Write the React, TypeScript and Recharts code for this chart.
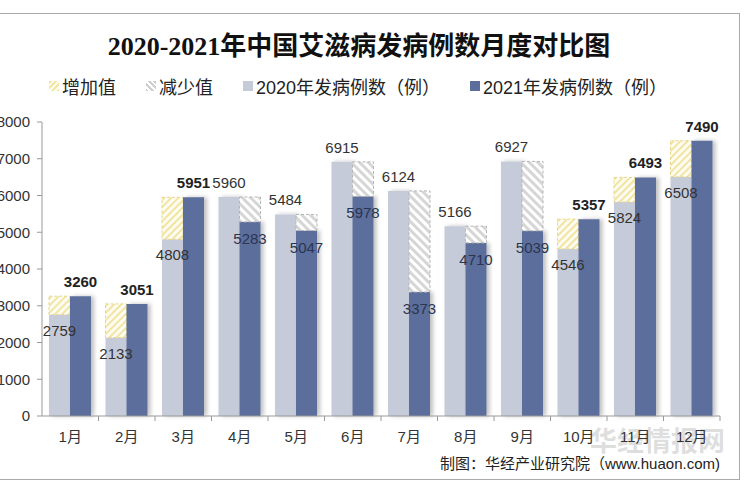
import { BarChart, Bar, XAxis, YAxis, LabelList } from "recharts";

const months = ["1月", "2月", "3月", "4月", "5月", "6月", "7月", "8月", "9月", "10月", "11月", "12月"];
const cases2020 = [2759, 2133, 4808, 5960, 5484, 6915, 6124, 5166, 6927, 4546, 5824, 6508];
const cases2021 = [3260, 3051, 5951, 5283, 5047, 5978, 3373, 4710, 5039, 5357, 6493, 7490];
const yTicks = [0, 1000, 2000, 3000, 4000, 5000, 6000, 7000, 8000];

const data = months.map((m, i) => ({
  month: m,
  y2020: cases2020[i],
  y2021: cases2021[i],
  inc: Math.max(0, cases2021[i] - cases2020[i]),
  dec: Math.max(0, cases2020[i] - cases2021[i]),
}));

const LIGHT = "#c6cbda";
const DARK = "#5b6e9c";
const FONT = "'Liberation Sans', Arial, 'Noto Sans CJK SC', sans-serif";

const label2020 = (props: any) => {
  const { x, y, width, value } = props;
  const i = cases2020.indexOf(value);
  const above = cases2021[i] < value;
  return (
    <text x={x + width / 2} y={above ? y - 9 : y + 21} textAnchor="middle"
      fontSize={15} fill="#333" fontFamily={FONT}>
      {value}
    </text>
  );
};

const label2021 = (props: any) => {
  const { x, y, width, value } = props;
  const i = cases2021.indexOf(value);
  const above = value > cases2020[i];
  return (
    <text x={x + width / 2} y={above ? y - 9 : y + 22} textAnchor="middle"
      fontSize={15} fontWeight={above ? "bold" : "normal"} fill={above ? "#222" : "#2a3550"} fontFamily={FONT}>
      {value}
    </text>
  );
};

const MonthTick = (props: any) => {
  const { x, y, payload } = props;
  const half = 678 / 12 / 2;
  return (
    <g>
      <line x1={x + half} y1={y} x2={x + half} y2={y + 5} stroke="#999" />
      <text x={x} y={y + 26} textAnchor="middle" fontSize={15} fill="#333" fontFamily={FONT}>
        {payload.value}
      </text>
    </g>
  );
};

const legendItems = [
  { name: "增加值", bg: "repeating-linear-gradient(-45deg, #f3e7a6 0 2px, #fffdf0 2px 4px)" },
  { name: "减少值", bg: "repeating-linear-gradient(45deg, #cfcfcf 0 2px, #fff 2px 4px)" },
  { name: "2020年发病例数（例）", bg: LIGHT },
  { name: "2021年发病例数（例）", bg: DARK },
];

export default function App() {
  return (
    <div style={{ position: "absolute", left: 0, top: 0, width: 750, height: 500, overflow: "hidden", background: "#fff" }}>
      <div style={{ position: "absolute", left: -2, top: 13, width: 742, height: 467, border: "1px solid #aaa", boxSizing: "border-box" }} />
      <div style={{ position: "absolute", left: 0, top: 25, width: 718, textAlign: "center", fontSize: 26, fontWeight: "bold",
        fontFamily: "'Liberation Serif', 'Noto Sans CJK SC', serif", color: "#111" }}>
        2020-2021年中国艾滋病发病例数月度对比图
      </div>
      <div style={{ position: "absolute", left: 0, top: 73, width: 716, display: "flex", justifyContent: "center", gap: 30,
        fontSize: 18, fontFamily: FONT, color: "#222" }}>
        {legendItems.map((it) => (
          <div key={it.name} style={{ display: "flex", alignItems: "center" }}>
            <span style={{ display: "inline-block", width: 10, height: 10, background: it.bg, marginRight: 3 }} />
            {it.name}
          </div>
        ))}
      </div>
      <div style={{ position: "absolute", left: 590, top: 420, fontSize: 27, fontWeight: "bold", color: "rgba(160,160,160,0.35)", fontFamily: FONT }}>
        华经情报网
      </div>
      <div style={{ position: "absolute", right: 30, top: 452, fontSize: 15, color: "#222", fontFamily: FONT }}>
        制图：华经产业研究院（www.huaon.com)
      </div>
      <div style={{ position: "absolute", left: 0, top: 0 }}>
        <BarChart width={750} height={500} data={data} barGap={0} barSize={21}
          margin={{ top: 122, right: 30, left: 0, bottom: 54 }}>
          <defs>
            <pattern id="incHatch" width="5" height="5" patternUnits="userSpaceOnUse" patternTransform="rotate(45)">
              <rect width="5" height="5" fill="#fffdf2" />
              <rect width="2" height="5" fill="#f1e4a2" />
            </pattern>
            <pattern id="decHatch" width="6" height="6" patternUnits="userSpaceOnUse" patternTransform="rotate(-45)">
              <rect width="6" height="6" fill="#ffffff" />
              <rect width="3" height="6" fill="#d6d6d6" />
            </pattern>
            <filter id="barShadow" x="-20%" y="-5%" width="150%" height="110%">
              <feDropShadow dx="3" dy="0" stdDeviation="2" floodColor="#000" floodOpacity="0.25" />
            </filter>
          </defs>
          <XAxis dataKey="month" axisLine={{ stroke: "#999" }} tickLine={false} tickSize={0} tickMargin={0}
            tick={<MonthTick />} height={30} interval={0} />
          <YAxis domain={[0, 8000]} ticks={yTicks} width={42} axisLine={{ stroke: "#999" }}
            tickLine={{ stroke: "#999" }} tickSize={5} tickMargin={7}
            tick={{ fontSize: 15, fill: "#333", fontFamily: FONT }} />
          <Bar dataKey="y2020" stackId="a" fill={LIGHT} filter="url(#barShadow)" isAnimationActive={false}>
            <LabelList dataKey="y2020" content={label2020} />
          </Bar>
          <Bar dataKey="inc" stackId="a" fill="url(#incHatch)" stroke="#e6d68c" strokeDasharray="3 2" strokeWidth={1} isAnimationActive={false} />
          <Bar dataKey="y2021" stackId="b" fill={DARK} filter="url(#barShadow)" isAnimationActive={false}>
            <LabelList dataKey="y2021" content={label2021} />
          </Bar>
          <Bar dataKey="dec" stackId="b" fill="url(#decHatch)" stroke="#b5b5b5" strokeDasharray="3 2" strokeWidth={1} isAnimationActive={false} />
        </BarChart>
      </div>
    </div>
  );
}
